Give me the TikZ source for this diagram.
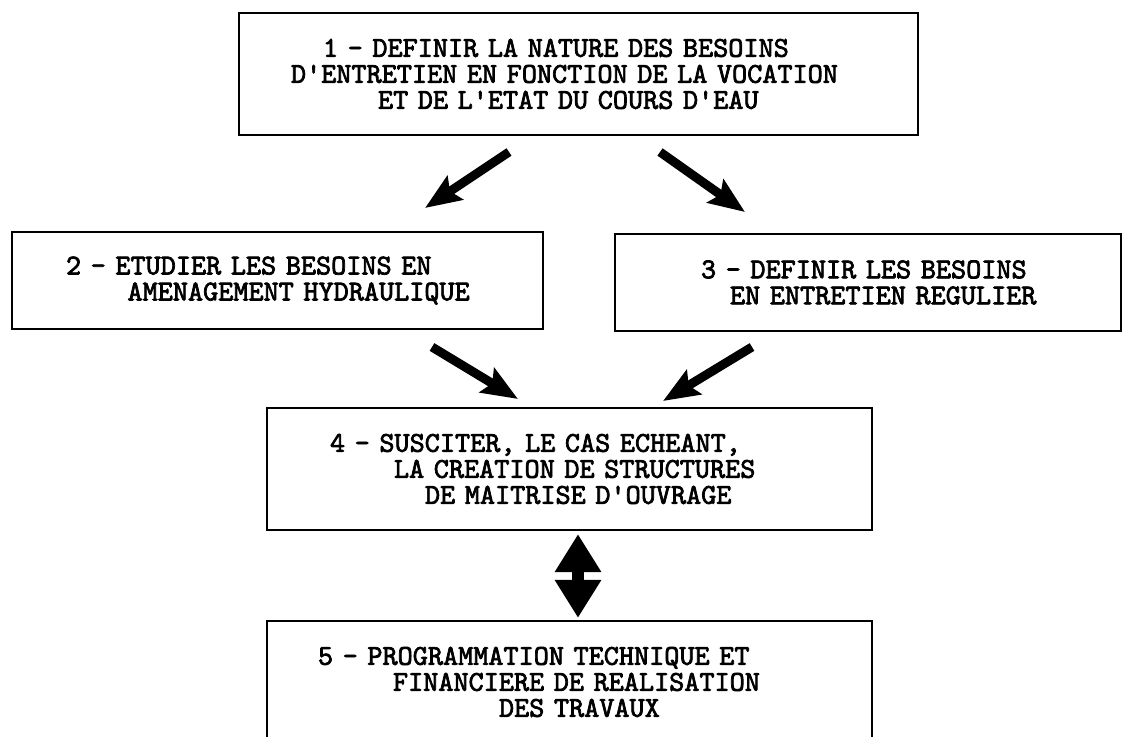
\documentclass[tikz,border=0pt]{standalone}
\usepackage{fontspec}
\usetikzlibrary{arrows.meta}
\newfontfamily\tw{lmmono10-regular.otf}[FakeBold=2.5]
\newcommand\li[2]{\hspace*{#1pt}\mbox{#2}}
\newcommand\ap{\textquotesingle}
\begin{document}
\begin{tikzpicture}[x=0.5pt,y=-0.5pt,
    every node/.style={draw,line width=1.1pt,inner sep=0pt,align=left,
        font=\tw\bfseries\fontsize{14.4}{13}\selectfont},
    fat/.style={line width=4.5pt,-{Stealth[length=18pt,width=14pt,inset=3pt]}},
    twin/.style={line width=6pt,{Triangle[length=19pt,width=22pt]}-{Triangle[length=19pt,width=22pt]}}]
\useasboundingbox (0,0) rectangle (1125,737);

    \node [minimum width=339.5pt, minimum height=61pt, text width=287.5pt] (b1) at (578.5,74)
        {\li{16}{1 - DEFINIR LA NATURE DES BESOINS}\\
         \li{0}{D\ap ENTRETIEN EN FONCTION DE LA VOCATION}\\
         \li{43.5}{ET DE L\ap ETAT DU COURS D\ap EAU}\par\vspace*{8pt}};
    \node [minimum width=265.5pt, minimum height=48.5pt, text width=211.5pt] (b2) at (277.5,280.5)
        {\li{0}{2 - ETUDIER LES BESOINS EN}\\
         \li{30.75}{AMENAGEMENT HYDRAULIQUE}\par\vspace*{8pt}};
    \node [minimum width=253pt, minimum height=48.5pt, text width=167pt] (b3) at (868,282.5)
        {\li{0}{3 - DEFINIR LES BESOINS}\\
         \li{14.5}{EN ENTRETIEN REGULIER}\par\vspace*{8pt}};
    \node [minimum width=302.5pt, minimum height=61pt, text width=239.5pt] (b4) at (569.5,469)
        {\li{0}{4 - SUSCITER, LE CAS ECHEANT,}\\
         \li{32}{LA CREATION DE STRUCTURES}\\
         \li{47.5}{DE MAITRISE D\ap OUVRAGE}\par\vspace*{8pt}};
    \node [minimum width=302.5pt, minimum height=61pt, text width=251.5pt] (b5) at (569.5,682)
        {\li{0}{5 - PROGRAMMATION TECHNIQUE ET}\\
         \li{37.5}{FINANCIERE DE REALISATION}\\
         \li{90.5}{DES TRAVAUX}\par\vspace*{8pt}};

    \coordinate (t1) at (509,152);
    \coordinate (h1) at (425,208);
    \coordinate (t2) at (660,152);
    \coordinate (h2) at (745,212);
    \coordinate (t3) at (432,347);
    \coordinate (h3) at (518,399);
    \coordinate (t4) at (752,347);
    \coordinate (h4) at (663,401);

    \draw [fat] (t1) -- (h1);
    \draw [fat] (t2) -- (h2);
    \draw [fat] (t3) -- (h3);
    \draw [fat] (t4) -- (h4);
    \draw [twin, shorten <=1.5pt, shorten >=1pt] ([xshift=4.25pt]b4.south) -- ([xshift=4.25pt]b5.north);

\end{tikzpicture}
\end{document}
